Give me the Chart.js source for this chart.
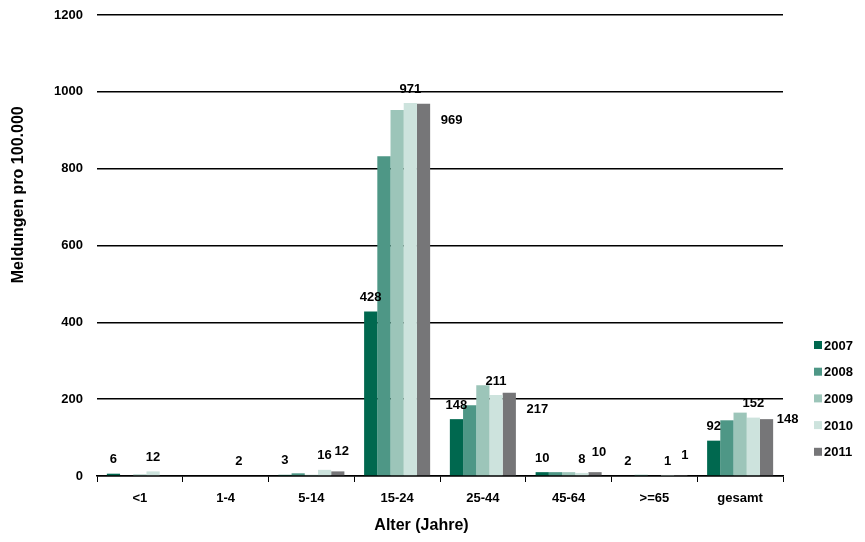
<!DOCTYPE html>
<html>
<head>
<meta charset="utf-8">
<script src="https://cdn.jsdelivr.net/npm/chart.js@4.4.0/dist/chart.umd.min.js"></script>
<style>
  html, body { margin: 0; padding: 0; background: #fff; }
  #wrap { width: 865px; height: 542px; }
</style>
</head>
<body>
<div id="wrap"><canvas id="meldungenChart"></canvas></div>
<script>
// Altersgruppen und Meldejahre
const categories = ['<1', '1-4', '5-14', '15-24', '25-44', '45-64', '>=65', 'gesamt'];
const years = ['2007', '2008', '2009', '2010', '2011'];

// Meldungen pro 100.000 je Jahr
const values2007 = [6, null, 3, 428, 148, 10, 2, 92];
const values2008 = [0, null, 7, 832, 184, 10, 3, 145];
const values2009 = [4, null, 3, 953, 236, 10, 2, 165];
const values2010 = [12, 2, 16, 971, 211, 8, 1, 152];
const values2011 = [null, null, 12, 969, 217, 10, 1, 148];

const yTicks = [0, 200, 400, 600, 800, 1000, 1200];

const colors = ['#00684F', '#4E9786', '#9CC5B9', '#CDE3DD', '#767678'];
// nur diese Jahre bekommen Zahlenwerte an den Balken
const labelledYears = ['2007', '2010', '2011'];

const FONT = '"Liberation Sans", Arial, sans-serif';

const seriesValues = [values2007, values2008, values2009, values2010, values2011];

const valueLabels = {
    id: 'valueLabels',
    afterDatasetsDraw(chart) {
        const ctx = chart.ctx;
        const base = chart.scales.y.getPixelForValue(0);
        ctx.save();
        ctx.font = 'bold 13px ' + FONT;
        ctx.fillStyle = '#000';
        ctx.textAlign = 'center';
        ctx.textBaseline = 'middle';
        chart.data.datasets.forEach((ds, i) => {
            if (!labelledYears.includes(ds.label)) return;
            const meta = chart.getDatasetMeta(i);
            meta.data.forEach((bar, j) => {
                const v = ds.data[j];
                if (v === null) return;
                let x = bar.x;
                let y = bar.y - 14;
                if (ds.label === '2011') {
                    // letzte Reihe seitlich versetzt
                    if (v > 200) { x += 28; y = bar.y + 17; }
                    else if (v >= 100) { x += 21; y = bar.y; }
                    else { x += 4; y = Math.min(bar.y - 20, base - 20); }
                }
                ctx.fillText(String(v), x, y);
            });
        });
        ctx.restore();
    }
};

const sideParts = {
    id: 'sideParts',
    afterDraw(chart) {
        const ctx = chart.ctx;
        const area = chart.chartArea;
        ctx.save();
        ctx.fillStyle = '#000';

        // Achsentitel
        ctx.font = 'bold 16px ' + FONT;
        ctx.textAlign = 'center';
        ctx.textBaseline = 'middle';
        ctx.fillText('Alter (Jahre)', area.left + (area.right - area.left) * 0.473, 526);
        ctx.save();
        ctx.translate(19, area.top + (area.bottom - area.top) * 0.39);
        ctx.rotate(-Math.PI / 2);
        ctx.fillText('Meldungen pro 100.000', 0, 0);
        ctx.restore();

        // Legende rechts unten
        ctx.font = 'bold 13px ' + FONT;
        ctx.textAlign = 'left';
        const lx = area.right + 31;
        const step = 26.7;
        const top = area.bottom - 131;
        chart.data.datasets.forEach((ds, i) => {
            const cy = top + i * step;
            ctx.fillStyle = ds.backgroundColor;
            ctx.fillRect(lx, cy - 4, 8, 8);
            ctx.fillStyle = '#000';
            ctx.fillText(ds.label, lx + 10, cy + 1);
        });
        ctx.restore();
    }
};

new Chart(document.getElementById('meldungenChart'), {
    type: 'bar',
    data: {
        labels: categories,
        datasets: years.map((yr, i) => ({
            label: yr,
            data: seriesValues[i],
            backgroundColor: colors[i],
            borderWidth: 0,
            categoryPercentage: 0.77,
            barPercentage: 1.0
        }))
    },
    options: {
        responsive: true,
        maintainAspectRatio: false,
        animation: false,
        layout: { padding: { top: 15, right: 82, left: 0, bottom: 0 } },
        plugins: {
            legend: { display: false },
            tooltip: { enabled: false }
        },
        scales: {
            x: {
                grid: {
                    offset: true,
                    drawOnChartArea: false,
                    color: '#000',
                    lineWidth: 1,
                    tickLength: 6
                },
                border: { color: '#000', width: 1.5 },
                ticks: {
                    color: '#000',
                    font: { family: FONT, size: 13, weight: 'bold' },
                    padding: 9,
                    maxRotation: 0
                },
                afterFit(scale) { scale.height = 66; }
            },
            y: {
                min: 0,
                max: 1200,
                afterBuildTicks(scale) { scale.ticks = yTicks.map(v => ({ value: v })); },
                grid: {
                    color: '#000',
                    lineWidth: 1.5,
                    drawTicks: false
                },
                border: { display: false },
                ticks: {
                    color: '#000',
                    font: { family: FONT, size: 13, weight: 'bold' },
                    padding: 14,
                    callback: v => String(v)
                },
                afterFit(scale) {
                    scale.width = 97;
                    scale.paddingTop = 0;
                    scale.paddingBottom = 0;
                }
            }
        }
    },
    plugins: [valueLabels, sideParts]
});
</script>
</body>
</html>
